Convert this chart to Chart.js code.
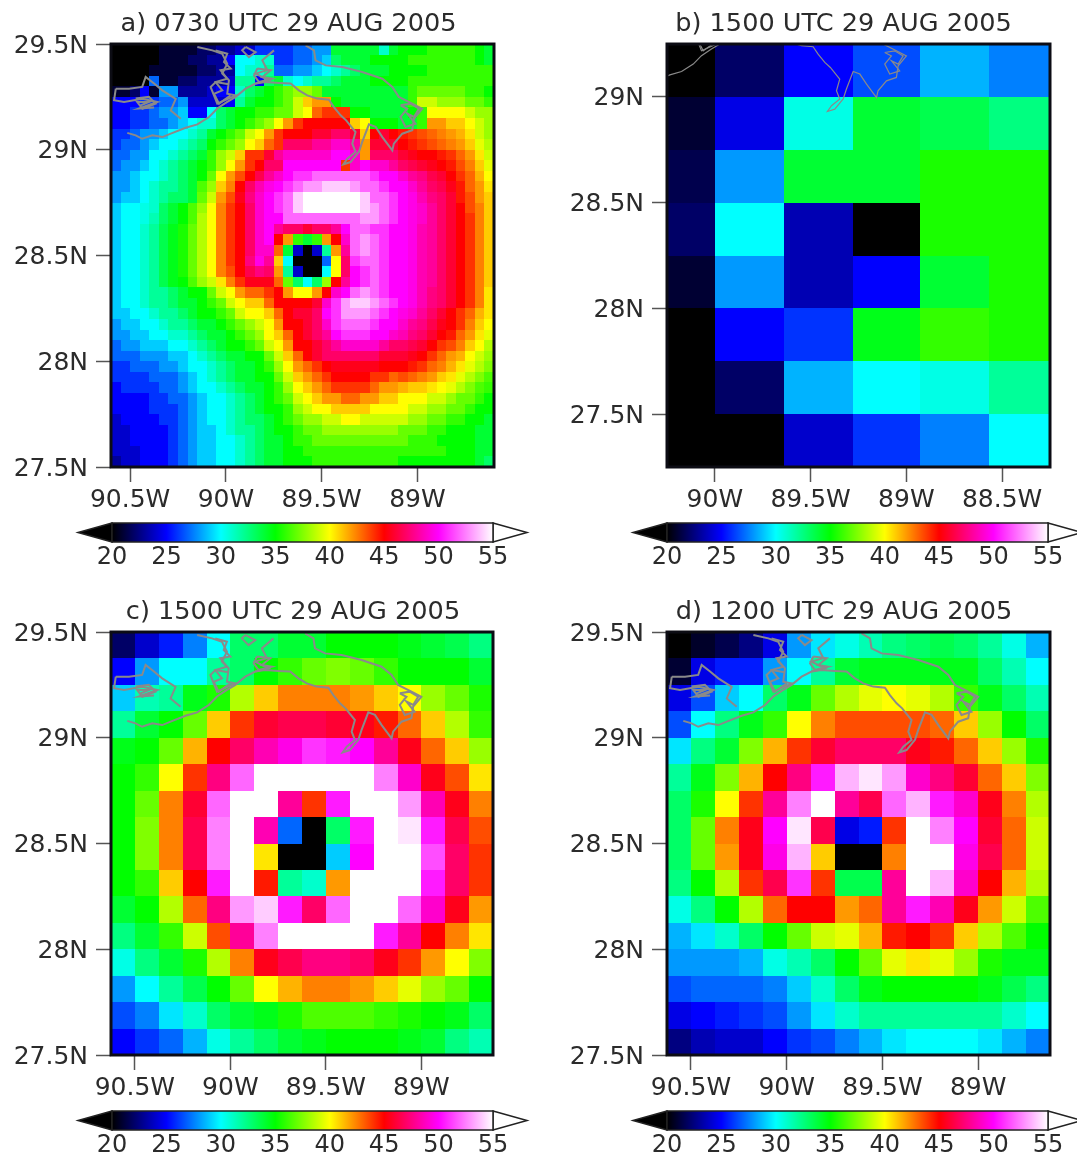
<!DOCTYPE html>
<html><head><meta charset="utf-8">
<script src="https://cdn.jsdelivr.net/npm/chart.js@4"></script>
<style>html,body{margin:0;background:#fff;overflow:hidden;width:1077px;height:1156px}canvas{position:absolute;filter:blur(0.45px)}</style>
</head><body>
<script>
const titleA="a) 0730 UTC 29 AUG 2005", titleB="b) 1500 UTC 29 AUG 2005", titleC="c) 1500 UTC 29 AUG 2005", titleD="d) 1200 UTC 29 AUG 2005";
const lonTicksA=[-90.5,-90,-89.5,-89], lonTicksB=[-90,-89.5,-89,-88.5];
const latTicksA=[27.5,28,28.5,29,29.5], latTicksB=[27.5,28,28.5,29];
const colorbarTicks=[20,25,30,35,40,45,50,55];
const colorStops=[20,25,30,35,40,45,50,55];
const colorValues=["#000000","#0000ff","#00ffff","#00ff00","#ffff00","#ff0000","#ff00ff","#ffffff"];

const gridA=[
[20,20,20,20,20,21,21,21,21,22,22,23,23,24,24,26,26,26,26,27,27,28,28,34,34,34,34,34,31,34,35,35,35,36,36,36,36,36,35,34],
[20,20,20,20,20,21,21,21,22,22,23,23,25,30,30,31,31,26,26,27,27,28,29,33,34,34,34,35,35,35,35,36,36,36,36,36,36,36,35,34],
[20,20,20,20,21,21,21,21,21,22,22,23,23,30,31,31,32,27,27,28,28,29,30,31,32,33,34,34,34,35,35,35,35,36,36,36,36,36,36,36],
[20,20,20,20,27,21,21,22,22,23,23,23,24,32,32,25,33,34,31,30,31,32,32,33,34,34,34,35,35,35,35,36,36,36,36,36,36,36,36,36],
[21,21,22,25,21,28,28,23,23,23,24,25,25,31,33,34,35,36,37,38,38,37,34,34,34,34,34,34,34,34,34,36,37,37,37,37,37,36,36,35],
[25,25,25,26,26,27,27,28,24,24,24,24,25,32,34,35,35,36,37,39,41,42,42,35,34,34,34,34,34,34,34,36,39,39,38,38,38,37,37,36],
[25,25,26,26,27,28,28,29,25,25,30,33,34,35,35,36,36,37,37,39,40,43,44,44,44,35,35,34,34,34,34,35,36,40,40,40,40,39,38,38],
[25,25,26,26,27,27,28,29,30,31,31,33,34,35,36,37,38,40,42,44,45,45,45,45,45,41,40,35,35,35,34,34,36,42,42,41,41,40,39,38],
[26,26,27,28,28,29,30,30,31,32,34,35,36,37,39,40,42,44,45,45,45,46,46,47,47,46,41,45,46,45,44.5,44,43.5,43,42.5,42,41.5,40.5,39,38],
[26,27,27,28,29,30,30,31,32,33,35,36,37,38,40,41,43,44,47,47,47,48,48,49,49,48,42,46,46,46,45,44.5,44,43.5,43,42.5,42,41,39.5,38.5],
[27,27,28,28,30,30,31,32,33,34,36,38,39,41,44,44,46,48,49,49,49,49,49,50,50,49,42,47,47,47,46,45.5,45,45,44.5,44,43,42,40.5,39],
[27,28,28,29,30,31,32,33,34,35,36,38,40,42,44,45,47,47,50,50,50,50,50,50,44,49,50,49,49,48,47,46.5,46,45.5,45,44.5,43.5,42.5,41,39.5],
[28,28,29,30,30,31,32,33,34,35,37,40,42,43.5,45,46.5,48,49,50,51,51,52,52,52,52,52,52,51,50,50,49,48,47.5,46.5,46,45,44,43,41.5,40],
[28,28,29,30,31,32,32,33,34,36.5,38,41,42.5,45,47,48.5,49.5,50,51,52,53,53,54,54,54,53,52,52,51,50,50,49,48,47,46.5,45.5,44.5,43,42,40.5],
[28,29,29,30,31,32,33,33,34,37,39,42,43.5,45.5,47.5,49,50,51,52,54,55,55,55,55,55,55,54,52,52,51,50,49.5,48.5,47.5,47,46,44.5,43.5,42,41],
[29,30,30,30.5,31,33,34,35,36.5,38,40,42.5,44,45,47,49,50,51,52,54,55,55,55,55,55,55,54,53,52,51,50,49.5,49,48,47,46,45,43.5,42.5,41],
[29,30,30,30.5,31.5,33,34,35,36.5,38.5,40,42.5,44,45,47,49,50,50,52,52,52,52,52,52,52,52,53,53,52,51,50,49.5,49,48,47,46,45,44,42.5,41],
[29,30,30,31,32,33.5,34.5,35.5,37,38.5,40,42.5,44,45,47,49,50,48,47,47,46,47,47,48,50,52,52,51,51,50,50,49.5,48.5,48,47,46,45,44,42.5,41],
[29,30,30,31,32,33.5,34.5,35.5,37,38.5,40,42.5,44,45,47,49,50,45,42,36,34,36,42,45,49,52,53,52,51,50,50,49.5,48.5,48,47,46,45,44,42.5,41],
[29,30,30,31,32,33.5,34.5,35.5,37,38.5,40,42.5,44,45,47,49,49,43,34,24,20,24,32,42,48,52,53,52,51,50,50,49.5,48.5,48,47,46,45,44,42.5,41],
[29,30,30,31,32,33.5,34.5,35.5,37,38.5,40,42.5,44,45,47.5,49.5,48,41,30,20,20,20,27,40,47,51,52,52,51,50,50,49.5,48.5,48,47,46,45,44,42.5,41],
[29,30,30,31,32,33.5,34.5,35.5,37,38.5,40,42.5,43.5,45,46.5,47.5,47,42,32,24,20,20,30,40,47,50,51,52,51,50,50,49.5,48.5,48,47,46,45,44,42.5,41],
[29,30,30,31,32,33.5,34.5,35,36.5,38,39,40.5,42.5,44,45.5,45.5,45.5,43,37,33,30,33,38,45,48,50,51,52,51,50,50,49.5,48.5,48,47,46,45,44,42.5,41],
[29,30,30,31,32,32,33,34,35,35,37,39,40,42,43,43,44,45,42,40,40,42,45,49,50,52,53,52,51,50,50,49.5,48.5,47.5,47,46,45,44,42.5,40.5],
[29,30,30,31,32,32,33,34,34,35,36,37,39,40,41,41,43,45,45,45,45,46,49,51,53,54,54,53,52,51,50,49.5,48.5,47.5,47,46,45,44,42.5,40.5],
[29,29,30,30,31,32,32,33,34,35,35,36,37,39,40,40,41,43,45,46,46,47,50,51,53,53,53,52,51,50,49.5,49,48,47,46,45,44,43,41.5,40.5],
[28,29,29,30,30,31,32,32,33,34,34,35,36,37,38,39,40,42,45,45,46,47,49,51,52,52,52,51,50,50,49,48,47.5,46.5,45.5,45,44,42.5,41,40],
[28,28,29,29,30,30,31,31,32,33,34,34,35,36,37,38,40,41,43,45,46,47,48,50,51,51,51,50,50,49,48.5,47.5,47,46,45,44.5,43,42,40.5,39.5],
[27,28,28,29,29,29,30,30,31,32,33,34,35,35,36,37,39,40,42,45,45,46,47,48,49,49,49,49,48,47,47,46.5,46,45,44,43.5,42.5,41,40,38.5],
[27,27,27,28,28,28,29,29,30,31,32,33,34,34,35,35,37,39,41,43,45,46,47,47,47,47,47,47,46,46,46,45.5,45,44,43,42,41.5,40,39,38],
[26,26,27,27,27,28,28,29,30,30,31,32,33,34,34,35,36,38,40,42,43,44,45,45.5,45.5,45.5,45.5,45.5,45,45,45,44.5,44,43,42.5,41.5,40.5,39.5,38.5,37.5],
[26,26,26,26,27,27,27,28,29,30,31,32,33,34,34,35,35,37,39,41,42,43,44,45,45,45,45,44,44,43,43.5,43,42.5,42,41,40.5,39.5,38.5,37.5,36.5],
[25,26,26,26,26,27,27,28,29,30,30,31,32,33,34,34,35,36,38,40,41,42,43,44,44,44,44,43,42,42,41.5,41,41,40.5,40,39.5,38.5,37.5,36.5,36],
[25,25,25,25,26,26,27,27,28,29,30,30,31,32,33,34,35,36,37,39,40,41,42,42,43,43,42,42,41,41,40,40,40,39,39,38,37,37,36,35],
[25,25,25,25,26,26,26,27,28,29,30,30,31,32,33,34,35,35,36,38,39,40,40,41,41,41,41,40,40,40,40,39,39,38,38,37,37,36,35,35],
[24,25,25,25,25,26,26,27,28,29,30,30,31,32,33,33,34,35,36,37,38,38,39,39,40,40,39,39,39,39,39,38,38,37,37,36,36,35,35,34],
[24,24,25,25,25,25,26,27,28,29,29,30,31,32,32,33,34,35,35,36,37,37,38,38,38,38,38,38,38,38,37,37,37,36,36,35,35,35,34,34],
[24,24,25,25,25,25,26,27,28,29,29,30,30,31,32,33,34,34,35,36,36,37,37,37,37,37,37,37,37,37,37,36,36,36,35,35,35,35,34,34],
[24,24,24,25,25,25,26,27,28,29,29,30,30,31,32,33,34,34,35,35,36,36,36,36,36,36,36,36,36,36,36,36,36,36,36,35,35,35,34,34],
[23,24,24,25,25,25,26,27,28,29,29,30,30,31,32,33,34,34,35,35,35,36,36,36,36,36,36,36,36,36,35,35,35,35,35,35,35,35,34,33]];

const gridB=[
[20,22,25,26.5,28.5,27.5],
[21,24.5,30.5,34,33.5,32.5],
[21.5,28,34,34,35.5,35.5],
[22,30,23.5,20,35.5,35.5],
[21,28,23.5,25,34,35.5],
[20,25,26,34.5,36,35.5],
[20,22,28.5,30,30.5,32],
[20,20,24,26,27.5,30]];
const lonEdgesB=[-90.25,-90,-89.64,-89.28,-88.93,-88.57,-88.25];

const gridC=[
[22,24,25.5,27.5,30,33,33,34,34,35,35,35,34.5,34,33.5,32.5],
[25,28,30,30,32,33,35,36,37,37.5,37,36,35,35,35,34],
[29,31.5,32,34.5,35.5,38.5,41,42.5,42.5,42.5,42,41,40,38,37,35.5],
[32,34,35,37,41,44,46,46.5,46.5,46,45.5,44.5,43,41,38.5,36],
[34.5,35,37,41.5,45,47,48.5,49.5,51,50.5,50,48,45.5,43,41,38],
[35,36,40,44,47.5,52,55,55,55,55,55,52.5,49,45.5,43.5,40.5],
[35,37,42.5,46,52,55,55,48,44,50.5,55,55,53,48.5,45.5,42.5],
[35,37.5,42.5,46.5,52.5,55,48.5,27,20,33,50.5,55,54.5,50.5,46.5,43.5],
[35,37.5,42.5,46.5,52.5,55,40.5,20,20,29,50,55,55,51.5,47,44],
[35,36,41,45,50.5,55,44.5,32,31,42,55,55,55,50.5,47,44],
[34,35,38.5,43,47.5,53,54,50.5,47,52,55,55,52,49,45.5,42],
[32.5,34,36,39,43.5,48,52.5,55,55,55,55,50.5,48,45,42.5,40.5],
[30.5,32.5,34,35.5,38.5,42.5,45.5,46.5,47.5,47.5,47,45.5,44,42,40,37.5],
[28,30,32,33.5,35,37,40,41.5,42.5,42.5,42,41,39.5,38,37,35],
[26.5,27.5,29.5,31,33,34,34.5,35.5,36.5,36.5,36.5,36,35.5,35,34.5,33],
[25,26,27,28.5,30.5,32,33,34,34.5,35,35,35,34.5,34,32.5,31.5]];

const gridD=[
[20,20.8,21.5,22.5,24.5,28,29.5,30.5,31.5,32.5,33,33.5,33,32,30.5,28.5],
[21,24.5,25.5,25.5,28,30,32,34,34.5,34.5,34.5,34.5,34.5,33,31.5,30],
[24.5,26.5,29,30,33,34.5,37,38.5,39.5,40,39.5,38.5,36,34.5,33,31.5],
[26.5,30,32.5,34.5,36,40,42.5,43.5,43.5,43.5,43.5,43,41,38,35,33],
[29.5,32.5,34,37.5,41.5,44,46,47,47,47,45.5,44.5,43,41,38,35.5],
[32,34.5,37.5,41.5,45,47.5,50.5,53.5,54.5,53,49,47.5,46,43,41,37.5],
[33,35.5,40,44,48,52.5,55,48,46.5,52,53.5,50.5,49,45.5,42.5,38.5],
[33,37,42.5,45.5,50,54.5,46.5,24.5,25.5,44,55,52.5,50,46,43,39],
[33,37,42,45.5,49.5,53.5,41,20,20,42.5,55,55,49.5,46.5,43,39],
[32.5,35,38.5,44,46.5,51,44,33.5,33.5,48,55,53.5,49,45,41.5,38.5],
[30.5,32.5,35,38.5,43,45,45,42,43,48,50.5,48.5,45.5,42,39,36.5],
[28.5,29.5,31,33,35,37,39,39.5,41.5,44.5,45,44,41,38.5,36.5,35],
[28,28,28,28.5,30.5,31.5,33,35,37,39.5,40.5,39.5,38,35.5,34.5,34.5],
[26.5,27,27,27,27.5,29,31,33,34.5,35,35,35,35,34.5,33.5,32.5],
[24.5,25,25.5,26,26.5,28,29.5,31,32,32,32,32,32,32,31,30],
[22.5,23.5,24,24,25,26,26.5,27.5,28.5,29.5,30,30,30,29.5,28.5,27.5]];

const coastMainLon=[-90.54,-90.496,-90.462,-90.409,-90.357,-90.313,-90.235,-90.174,-90.113,-90.07,-90.018,-89.974,-89.922,-89.87,-89.818,-89.748,-89.687,-89.644,-89.6,-89.548,-89.487,-89.461,-89.426,-89.397,-89.348,-89.365,-89.348,-89.391,-89.412,-89.374,-89.33,-89.313,-89.278,-89.243,-89.208,-89.156,-89.148,-89.104,-89.052,-89.043,-89,-89.052,-89.122,-89.156,-89.208,-89.313,-89.417,-89.504,-89.557,-89.565,-89.609];
const coastMainLat=[29.08,29.068,29.052,29.068,29.06,29.076,29.104,29.12,29.155,29.195,29.226,29.25,29.289,29.313,29.32,29.316,29.313,29.281,29.257,29.242,29.237,29.202,29.163,29.139,29.084,29.029,28.99,28.958,28.931,28.942,28.99,29.037,29.12,29.108,29.06,28.997,29.029,29.076,29.092,29.147,29.194,29.218,29.25,29.297,29.336,29.368,29.391,29.399,29.423,29.47,29.494];
const coastLakeLon=[-90.174,-90.096,-90.044,-90.018,-90.044,-90.009,-90.018,-89.974,-90.07,-90.105,-90.078,-90.01];
const coastLakeLat=[29.486,29.47,29.454,29.407,29.36,29.328,29.265,29.257,29.218,29.297,29.32,29.31];
const coastPontLon=[-89.922,-89.87,-89.905,-89.94,-89.922];
const coastPontLat=[29.486,29.462,29.438,29.47,29.486];
const coastMarshLon=[-89.774,-89.835,-89.809,-89.87,-89.8,-89.87];
const coastMarshLat=[29.47,29.423,29.376,29.36,29.328,29.313];
const coastWestLon=[-90.6,-90.531,-90.462,-90.444,-90.4,-90.357,-90.287,-90.313,-90.261];
const coastWestLat=[29.289,29.289,29.297,29.344,29.313,29.281,29.241,29.186,29.147];
const coastBayLon=[-90.6,-90.609,-90.557,-90.461,-90.383,-90.479,-90.4];
const coastBayLat=[29.289,29.234,29.226,29.241,29.226,29.195,29.2];
const coastBirdLon=[-89.113,-89.061,-89.017,-89.043,-89.078,-89.035,-89.087,-89.113,-89.078,-89.113];
const coastBirdLat=[29.21,29.218,29.194,29.155,29.171,29.123,29.108,29.155,29.194,29.21];
const coastStemLon=[-90.079,-90.018,-90.035,-90,-90.053,-90.018,-90.079,-90.044,-90.087,-90.061,-90];
const coastStemLat=[29.47,29.454,29.415,29.384,29.376,29.336,29.32,29.281,29.265,29.218,29.257];
const coastTerreLon=[-90.496,-90.427,-90.392,-90.461,-90.488,-90.427,-90.47];
const coastTerreLat=[29.242,29.25,29.218,29.194,29.226,29.226,29.21];
const coastBaratLon=[-89.861,-89.791,-89.835,-89.783,-89.852,-89.878,-89.861];
const coastBaratLat=[29.384,29.376,29.344,29.336,29.32,29.352,29.384];
const coastLines=[[coastMainLon,coastMainLat],[coastLakeLon,coastLakeLat],[coastPontLon,coastPontLat],[coastMarshLon,coastMarshLat],[coastWestLon,coastWestLat],[coastBayLon,coastBayLat],[coastBirdLon,coastBirdLat],[coastStemLon,coastStemLat],[coastTerreLon,coastTerreLat],[coastBaratLon,coastBaratLat]];

const TEXT="#2b2b2b", FONT="'DejaVu Sans'";
function colorOf(v){
  if(v<=colorStops[0])return colorValues[0];
  for(let i=1;i<colorStops.length;i++){
    if(v<=colorStops[i]){
      const t=(v-colorStops[i-1])/(colorStops[i]-colorStops[i-1]);
      const a=colorValues[i-1],b=colorValues[i];
      const c=k=>Math.round(parseInt(a.substr(k,2),16)*(1-t)+parseInt(b.substr(k,2),16)*t);
      return `rgb(${c(1)},${c(3)},${c(5)})`;
    }
  }
  return "#ffffff";
}
const heatPlugin={id:"heat",afterLayout(chart,args,opts){
  chart.titleBlock.left=0;chart.titleBlock.right=2*opts.titleCentre;
},beforeDatasetsDraw(chart){
  const {ctx,chartArea:a,scales:{x,y}}=chart;
  ctx.save();ctx.beginPath();ctx.rect(a.left,a.top,a.right-a.left,a.bottom-a.top);ctx.clip();
  for(const p of chart.data.datasets[0].data){
    const x0=Math.round(x.getPixelForValue(p.x0)),x1=Math.round(x.getPixelForValue(p.x1));
    const y0=Math.round(y.getPixelForValue(p.y0)),y1=Math.round(y.getPixelForValue(p.y1));
    ctx.fillStyle=colorOf(p.v);ctx.fillRect(x0,y0,x1-x0,y1-y0);
  }
  ctx.restore();
},afterDatasetsDraw(chart){
  const {ctx,chartArea:a}=chart;
  ctx.save();ctx.strokeStyle="#0c0c14";ctx.lineWidth=3;ctx.strokeRect(a.left,a.top,a.right-a.left,a.bottom-a.top);ctx.restore();
}};
function cellsOf(grid,lonEdges,latTop,latStep){
  const out=[];
  grid.forEach((row,r)=>row.forEach((v,c)=>{
    const x0=lonEdges[c],x1=lonEdges[c+1],y0=latTop-r*latStep,y1=latTop-(r+1)*latStep;
    out.push({x:(x0+x1)/2,y:(y0+y1)/2,x0,x1,y0,y1,v});
  }));
  return out;
}
function edges(start,step,n){return Array.from({length:n+1},(_,i)=>start+i*step);}
function panel(o){
  const cv=document.createElement("canvas");
  cv.width=o.w;cv.height=510;cv.style.left=o.l+"px";cv.style.top=o.t+"px";document.body.appendChild(cv);
  const coast=coastLines.map(([lo,la])=>({data:lo.map((v,i)=>({x:v+o.shift,y:la[i]})),showLine:true,pointRadius:0,borderColor:"#8a8a8a",borderWidth:o.coastW,tension:0}));
  new Chart(cv,{type:"scatter",plugins:[heatPlugin],data:{datasets:[{data:cellsOf(o.grid,o.edges,o.top,o.step),pointRadius:0,showLine:false},...coast]},
  options:{responsive:false,animation:false,events:[],layout:{padding:{right:o.pr,left:0,top:0,bottom:0}},
    plugins:{heat:{titleCentre:o.tc},legend:{display:false},tooltip:{enabled:false},
      title:{display:true,text:o.title,color:TEXT,font:{family:FONT,size:25.6,weight:"normal",lineHeight:1.2},padding:{top:9,bottom:4.3}}},
    scales:{
      x:{type:"linear",min:o.xmin,max:o.xmin+2,afterBuildTicks:s=>{s.ticks=o.xt.map(v=>({value:v}))},afterFit:s=>{s.height=43},
        grid:{drawOnChartArea:false,tickLength:15,tickColor:"#555",tickWidth:1.5},border:{display:false},
        ticks:{color:TEXT,font:{family:FONT,size:25},padding:3,maxRotation:0,autoSkip:false,callback:v=>Math.abs(v)+"W"}},
      y:{type:"linear",min:o.top-2,max:o.top,afterBuildTicks:s=>{s.ticks=o.yt.map(v=>({value:v}))},afterFit:s=>{s.width=o.yw},
        grid:{drawOnChartArea:false,tickLength:15,tickColor:"#555",tickWidth:1.5},border:{display:false},
        ticks:{color:TEXT,font:{family:FONT,size:25},padding:8,labelOffset:2,autoSkip:false,callback:v=>v+"N"}}
    }}});
}
const barPlugin={id:"bar",beforeDatasetsDraw(chart){
  const {ctx,chartArea:a,scales:{x}}=chart;
  const g=ctx.createLinearGradient(a.left,0,a.right,0);
  colorStops.forEach((s,i)=>g.addColorStop((x.getPixelForValue(s)-a.left)/(a.right-a.left),colorValues[i]));
  const mid=(a.top+a.bottom)/2;
  ctx.save();ctx.lineWidth=1.5;ctx.strokeStyle="#222";
  ctx.beginPath();ctx.moveTo(a.left,a.top);ctx.lineTo(a.left-34,mid);ctx.lineTo(a.left,a.bottom);ctx.closePath();ctx.fillStyle="#000";ctx.fill();ctx.stroke();
  ctx.beginPath();ctx.moveTo(a.right,a.top);ctx.lineTo(a.right+34,mid);ctx.lineTo(a.right,a.bottom);ctx.closePath();ctx.fillStyle="#fff";ctx.fill();ctx.stroke();
  ctx.fillStyle=g;ctx.fillRect(a.left,a.top,a.right-a.left,a.bottom-a.top);ctx.strokeRect(a.left,a.top,a.right-a.left,a.bottom-a.top);
  ctx.restore();
}};
function colorbar(l,t){
  const cv=document.createElement("canvas");
  cv.width=480;cv.height=65;cv.style.left=l+"px";cv.style.top=t+"px";document.body.appendChild(cv);
  new Chart(cv,{type:"scatter",plugins:[barPlugin],data:{datasets:[{data:colorbarTicks.map(v=>({x:v,y:0.5})),pointRadius:0}]},
  options:{responsive:false,animation:false,events:[],layout:{padding:{left:52,right:47,top:13,bottom:0}},plugins:{legend:{display:false},tooltip:{enabled:false}},
    scales:{
      x:{type:"linear",min:20,max:55,afterBuildTicks:s=>{s.ticks=colorbarTicks.map(v=>({value:v}))},afterFit:s=>{s.height=33},
        grid:{display:false,drawTicks:false},border:{display:false},
        ticks:{color:TEXT,font:{family:FONT,size:24},padding:1,maxRotation:0,autoSkip:false}},
      y:{display:false,min:0,max:1}
    }}});
}
panel({title:titleA,grid:gridA,edges:edges(-90.6,0.05,40),top:29.5,step:0.05,xmin:-90.6,xt:lonTicksA,yt:latTicksA,shift:0.025,coastW:2,l:0,t:0,w:577,yw:111,pr:83,tc:288.5});
panel({title:titleB,grid:gridB,edges:lonEdgesB,top:29.25,step:0.25,xmin:-90.25,xt:lonTicksB,yt:latTicksB,shift:0,coastW:1.2,l:560,t:0,w:567,yw:107,pr:77,tc:283.5});
panel({title:titleC,grid:gridC,edges:edges(-90.625,0.125,16),top:29.5,step:0.125,xmin:-90.625,xt:lonTicksA,yt:latTicksA,shift:0,coastW:2,l:0,t:588,w:586,yw:111,pr:93,tc:293});
panel({title:titleD,grid:gridD,edges:edges(-90.625,0.125,16),top:29.5,step:0.125,xmin:-90.625,xt:lonTicksA,yt:latTicksA,shift:0,coastW:2,l:560,t:588,w:568,yw:107,pr:78,tc:284});
colorbar(60,510);colorbar(615,510);colorbar(60,1098);colorbar(615,1098);
</script>
</body></html>
